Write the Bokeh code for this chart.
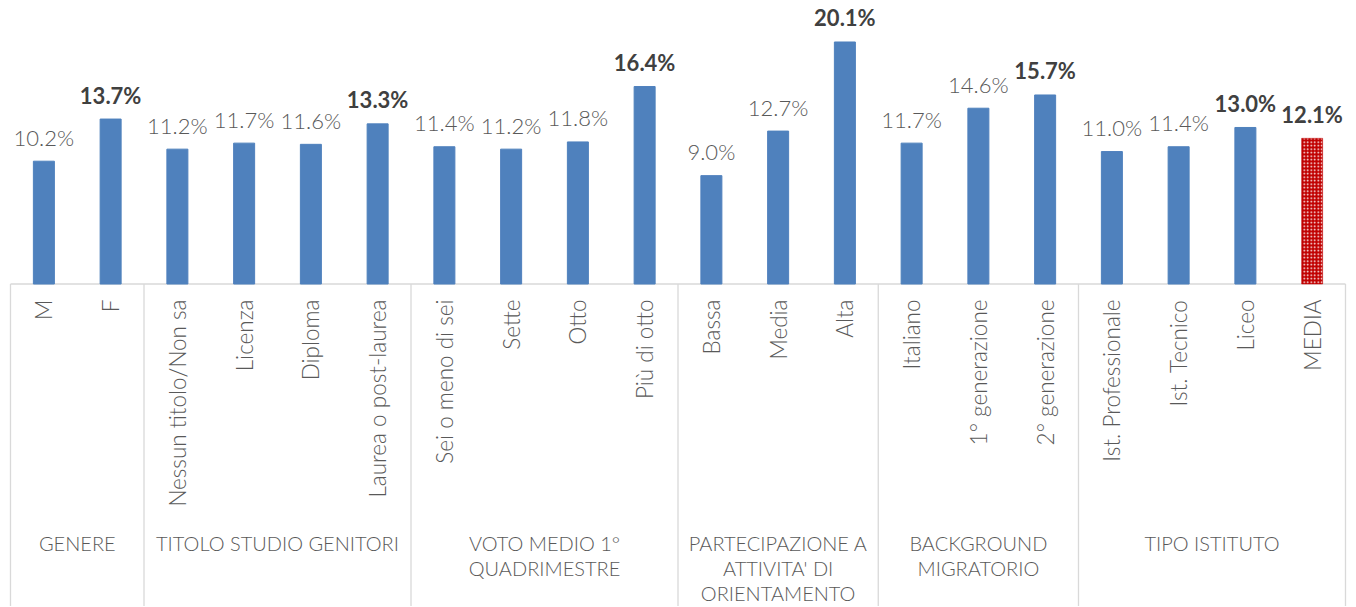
import numpy as np
from math import pi
from bokeh.plotting import figure
from bokeh.models import Range1d, ColumnDataSource
from bokeh.core.properties import value
from bokeh.embed import file_html
from bokeh.resources import INLINE

# ---------------- data ----------------
categories = ["M", "F",
              "Nessun titolo/Non sa", "Licenza", "Diploma", "Laurea o post-laurea",
              "Sei o meno di sei", "Sette", "Otto", "Più di otto",
              "Bassa", "Media", "Alta",
              "Italiano", "1° generazione", "2° generazione",
              "Ist. Professionale", "Ist. Tecnico", "Liceo", "MEDIA"]
values = [10.2, 13.7,
          11.2, 11.7, 11.6, 13.3,
          11.4, 11.2, 11.8, 16.4,
          9.0, 12.7, 20.1,
          11.7, 14.6, 15.7,
          11.0, 11.4, 13.0, 12.1]
groups = ["GENERE", "TITOLO STUDIO GENITORI", "VOTO MEDIO 1°\nQUADRIMESTRE",
          "PARTECIPAZIONE A\nATTIVITA' DI\nORIENTAMENTO", "BACKGROUND\nMIGRATORIO",
          "TIPO ISTITUTO"]
group_sizes = [2, 4, 4, 3, 3, 4]
total_label = "MEDIA"

# ---------------- layout ----------------
W, H = 1350, 606
PXX = 66.75          # px per category
PXY = 12.04          # px per percent
AXIS_PX = 283.5      # axis distance from top of frame
LEFT_PX = 10.0
x0 = -LEFT_PX / PXX
x1 = x0 + W / PXX
y1 = AXIS_PX / PXY
y0 = y1 - H / PXY

FONT = value("'Lato Light', Lato")
FONT_B = value("Lato")
GRAY = "#595959"
DARK = "#404040"
LINE = "#d9d9d9"
BLUE = "#4f81bd"

n = len(categories)
xs = [i + 0.5 for i in range(n)]

# bold: max within each group, plus the overall mean
bold = [False] * n
start = 0
bounds = [0]
for g in group_sizes:
    idx = [i for i in range(start, start + g) if categories[i] != total_label]
    m = max(values[i] for i in idx)
    for i in idx:
        if values[i] == m:
            bold[i] = True
    start += g
    bounds.append(start)
for i, c in enumerate(categories):
    if c == total_label:
        bold[i] = True

p = figure(width=W, height=H, x_range=Range1d(x0, x1), y_range=Range1d(y0, y1),
           x_axis_type=None, y_axis_type=None, toolbar_location=None,
           output_backend="svg", min_border=0)
p.outline_line_color = None
p.xgrid.visible = False
p.ygrid.visible = False
p.background_fill_color = "white"
p.border_fill_color = "white"

# axis frame lines
p.segment(x0=[0], y0=[0], x1=[n], y1=[0], line_color=LINE, line_width=1.3)
p.segment(x0=bounds, y0=[0] * len(bounds), x1=bounds, y1=[y0] * len(bounds),
          line_color=LINE, line_width=1.3)

# bars
main = [i for i in range(n) if categories[i] != total_label]
tot = [i for i in range(n) if categories[i] == total_label]
src_main = ColumnDataSource(dict(x=[xs[i] for i in main], top=[values[i] for i in main]))
src_tot = ColumnDataSource(dict(x=[xs[i] for i in tot], top=[values[i] for i in tot]))
bw = 21 / PXX
p.vbar(x="x", top="top", width=bw, source=src_main, fill_color=BLUE, line_color=BLUE)
p.vbar(x="x", top="top", width=bw, source=src_tot, fill_color="#c00000",
       line_color="#c00000", line_width=0.5, hatch_pattern="dot", hatch_color="white",
       hatch_scale=3.5, hatch_weight=1.2)

# value labels
labels = [f"{v:.1f}%" for v in values]
off = 24 / PXY
for flag, style, col, fnt in [(False, "normal", GRAY, FONT), (True, "bold", DARK, FONT_B)]:
    ids = [i for i in range(n) if bold[i] == flag]
    src = ColumnDataSource(dict(x=[xs[i] for i in ids],
                                y=[values[i] + off for i in ids],
                                t=[labels[i] for i in ids]))
    p.text(x="x", y="y", text="t", source=src, text_align="center",
           text_baseline="alphabetic", text_font=fnt, text_font_size="22px",
           text_font_style=style, text_color=col)

# category labels (rotated)
p.text(x=xs, y=[-15.5 / PXY] * n, text=categories, angle=pi / 2,
       text_align="right", text_baseline="middle", text_font=FONT,
       text_font_size="22.5px", text_color=GRAY)

# group labels
gx, gy, gt = [], [], []
for k, g in enumerate(groups):
    cx = (bounds[k] + bounds[k + 1]) / 2
    for j, line in enumerate(g.split("\n")):
        gx.append(cx)
        gy.append(-(258.5 + 25 * j) / PXY)
        gt.append(line)
p.text(x=gx, y=gy, text=gt, text_align="center", text_baseline="middle",
       text_font=FONT, text_font_size="20px", text_color=GRAY)

open("out.html", "w").write(file_html(p, INLINE))
